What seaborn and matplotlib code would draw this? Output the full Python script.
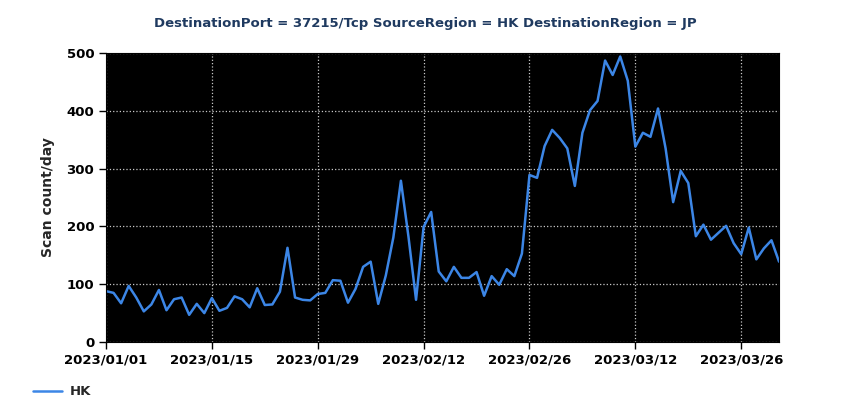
import pandas as pd
import matplotlib
matplotlib.use("Agg")
import matplotlib.pyplot as plt
import seaborn as sns

# daily scan counts, 2023/01/01 .. 2023/03/31
start_date = "2023-01-01"
scan_counts = [
    88, 85, 67, 97, 77, 53, 65, 90, 55, 74,
    77, 47, 66, 50, 76, 54, 59, 79, 74, 60,
    93, 64, 65, 87, 163, 77, 73, 72, 83, 85,
    107, 106, 68, 92, 130, 139, 66, 115, 181, 279,
    182, 73, 199, 225, 122, 105, 130, 111, 111, 121,
    80, 114, 99, 126, 114, 153, 289, 284, 339, 367,
    353, 335, 270, 362, 401, 417, 487, 462, 494, 452,
    338, 362, 355, 404, 335, 242, 296, 275, 183, 203,
    177, 189, 201, 171, 152, 198, 143, 162, 176, 139,
]
region = "HK"
tick_dates = ["2023-01-01", "2023-01-15", "2023-01-29", "2023-02-12",
              "2023-02-26", "2023-03-12", "2023-03-26"]
title = "DestinationPort = 37215/Tcp SourceRegion = HK DestinationRegion = JP"

df = pd.DataFrame({
    "date": pd.date_range(start_date, periods=len(scan_counts), freq="D"),
    "count": scan_counts,
    "region": region,
})

sns.set_style("ticks")
plt.rcParams["font.family"] = ["DejaVu Sans"]
plt.rcParams["font.weight"] = "bold"

fig = plt.figure(figsize=(8.5, 4.2), dpi=100)
ax = fig.add_axes([0.1247, 0.1857, 0.7918, 0.6881])
ax.set_facecolor("black")

sns.lineplot(data=df, x="date", y="count", hue="region",
             palette={region: "#3c86e6"}, linewidth=1.8, ax=ax, legend=False)

ax.set_xlim(df["date"].iloc[0], df["date"].iloc[-1])
ax.set_ylim(0, 500)
ax.set_yticks([0, 100, 200, 300, 400, 500])
ticks = pd.to_datetime(tick_dates)
ax.set_xticks(ticks)
ax.set_xticklabels([t.strftime("%Y/%m/%d") for t in ticks])
ax.tick_params(axis="both", labelsize=9.5, length=5, width=1, colors="black")
for lab in ax.get_xticklabels() + ax.get_yticklabels():
    lab.set_fontweight("bold")

ax.grid(True, color="#c8c8c8", linestyle=":", linewidth=0.9)
for s in ax.spines.values():
    s.set_color("black")

ax.set_xlabel("")
ax.set_ylabel("Scan count/day", fontsize=10, fontweight="bold", labelpad=8)

fig.text(0.5, 0.945, title, ha="center", va="center", fontsize=9.5,
         fontweight="bold", color="#1f3a60")

handle = plt.Line2D([], [], color="#3c86e6", linewidth=1.8)
fig.legend([handle], [region], loc="center left", bbox_to_anchor=(0.025, 0.067),
           frameon=False, fontsize=9.5, handlelength=2.2, handletextpad=0.6)

fig.savefig("out.png", dpi=100)
